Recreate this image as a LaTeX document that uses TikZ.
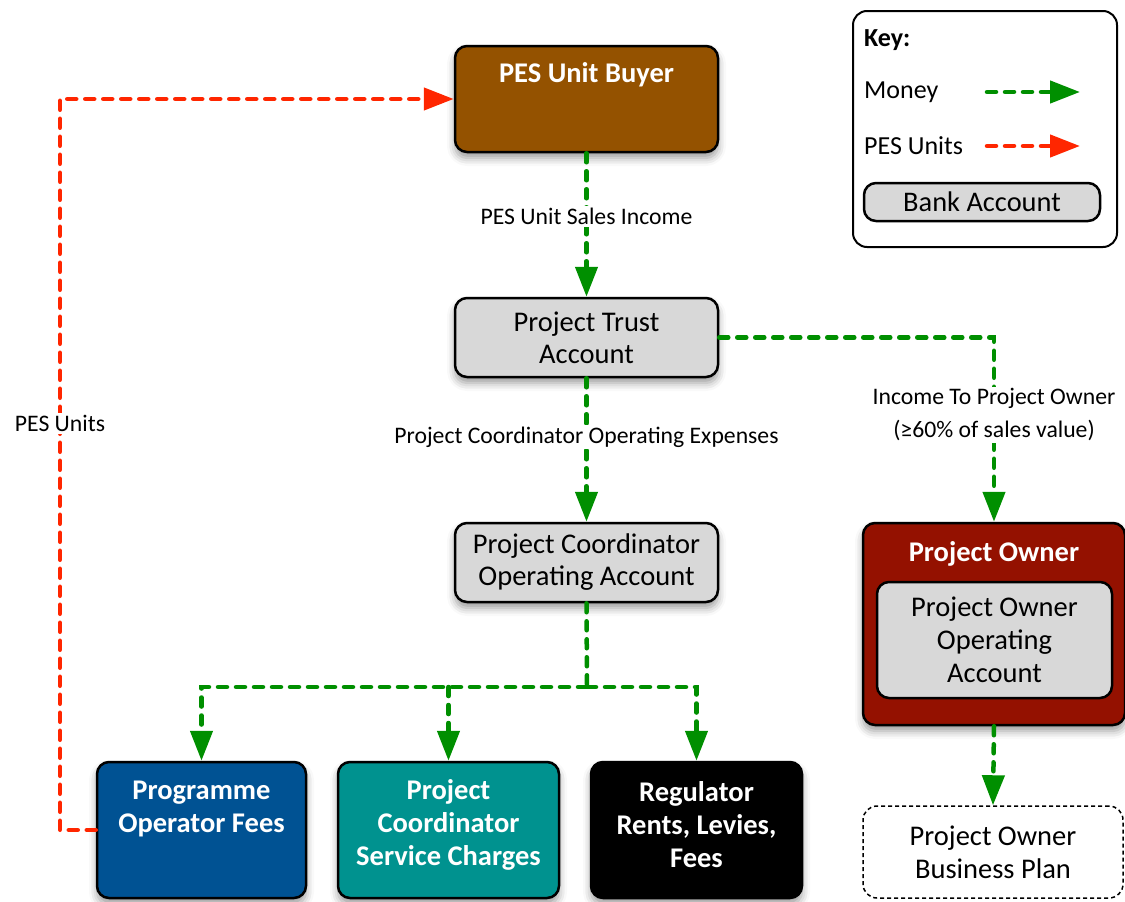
\documentclass[tikz,border=0pt]{standalone}
\usepackage{fontspec}
\setmainfont{Carlito}
\usetikzlibrary{arrows.meta,shadows.blur}
\definecolor{buyerbrown}{RGB}{148,82,0}
\definecolor{acctgray}{RGB}{216,216,216}
\definecolor{pofblue}{RGB}{0,82,147}
\definecolor{pcsteal}{RGB}{0,146,143}
\definecolor{ownerred}{RGB}{148,17,0}
\definecolor{moneygreen}{RGB}{0,143,0}
\definecolor{unitsred}{RGB}{255,38,0}
\begin{document}
\begin{tikzpicture}[x=1pt,y=-1pt,
  shad/.style={blur shadow={shadow xshift=0pt, shadow yshift=-6pt, shadow blur radius=8pt, shadow opacity=40}},
  boxbase/.style={draw=black, line width=2.5pt, rounded corners=12pt, inner sep=0pt, align=center},
  acct/.style={boxbase, fill=acctgray, shad, font=\fontsize{28.5}{32}\selectfont},
  colbox/.style={boxbase, fill=#1, shad},
  whitetitle/.style={text=white, font=\bfseries\fontsize{28.5}{33}\selectfont, align=center, inner sep=0pt},
  lbl/.style={fill=white, inner sep=2pt, align=center, font=\fontsize{23.7}{33}\selectfont},
  flow/.style={line width=4.5pt, line cap=round, dash pattern=on 9pt off 9pt},
  money/.style={flow, draw=moneygreen, -{Triangle[length=30pt,width=22pt]}},
  moneyline/.style={flow, draw=moneygreen},
  units/.style={flow, draw=unitsred, -{Triangle[length=30pt,width=22pt]}},
  keytext/.style={anchor=west, inner sep=0pt, font=\fontsize{26}{30}\selectfont}
]
\useasboundingbox (0,0) rectangle (1125,902);

% key
\node[boxbase, line width=2pt, rounded corners=14pt, minimum width=264pt, minimum height=236pt] (key) at (985,129) {};
\node[keytext, font=\bfseries\fontsize{26}{30}\selectfont] (keyt) at (864,40) {Key:};
\node[keytext] (keym) at (864,92) {Money};
\node[keytext] (keyu) at (864,146) {PES Units};
\coordinate (km1) at (987,92);
\coordinate (km2) at (1080,92);
\coordinate (ku1) at (987,146);
\coordinate (ku2) at (1080,146);
\draw[money] (km1) -- (km2);
\draw[units] (ku1) -- (ku2);
\node[boxbase, line width=2.5pt, fill=acctgray, minimum width=236pt, minimum height=38pt, font=\fontsize{28.4}{32}\selectfont] (keyb) at (982,202) {Bank Account};

% main boxes
\node[colbox=buyerbrown, minimum width=263pt, minimum height=106pt] (buyer) at (586.5,99) {};
\node[whitetitle] (buyert) at (586.5,75) {PES Unit Buyer};

\node[acct, minimum width=263pt, minimum height=79pt] (trust) at (586.5,337.5) {Project Trust\\Account};
\node[acct, minimum width=263pt, minimum height=79pt] (coord) at (586.5,562.5) {Project Coordinator\\Operating Account};

\node[colbox=pofblue, minimum width=209pt, minimum height=136pt] (pof) at (201.5,830) {};
\node[whitetitle] (poft) at (201.5,808.5) {Programme\\Operator Fees};
\node[colbox=pcsteal, minimum width=221pt, minimum height=136pt] (pcs) at (448.5,830) {};
\node[whitetitle] (pcst) at (448.5,825) {Project\\Coordinator\\Service Charges};
\node[colbox=black, minimum width=211pt, minimum height=136pt] (reg) at (696.5,830) {};
\node[whitetitle] (regt) at (696.5,825) {Regulator\\Rents, Levies,\\Fees};

\node[colbox=ownerred, minimum width=262pt, minimum height=202pt] (owner) at (994,624) {};
\node[whitetitle] (ownert) at (994,554) {Project Owner};
\node[boxbase, fill=acctgray, minimum width=235pt, minimum height=116pt, font=\fontsize{28.5}{33}\selectfont] (owneracct) at (994.5,640) {Project Owner\\Operating\\Account};

\node[draw=black, line width=1.5pt, dash pattern=on 4pt off 3pt, rounded corners=14pt, minimum width=260pt, minimum height=92pt, inner sep=0pt, align=center, font=\fontsize{28.5}{33}\selectfont] (plan) at (993,852) {Project Owner\\Business Plan};

% money flows
\draw[money] (buyer.south) -- node[lbl, pos=0.44] (l1) {PES Unit Sales Income} (trust.north);
\draw[money] (trust.south) -- node[lbl, pos=0.41] (l2) {Project Coordinator Operating Expenses} (coord.north);
\draw[money] (trust.east) -| node[lbl, pos=0.71] (l3) {Income To Project Owner\\(≥60\% of sales value)} (owner.north);
\coordinate (br) at (587,687);
\draw[moneyline] (coord.south) -- (br);
\draw[money] (br) -| (pof.north);
\draw[money] (br) -| (reg.north);
\draw[money] (pcs.north |- br) -- (pcs.north);
\draw[money] (owner.south) -- (plan.north);

% PES units flow
\coordinate (rc) at (60,830);
\draw[units] (pof.west) -- (rc) |- node[lbl, pos=0.278] (l4) {PES Units} (buyer.west);
\end{tikzpicture}
\end{document}
